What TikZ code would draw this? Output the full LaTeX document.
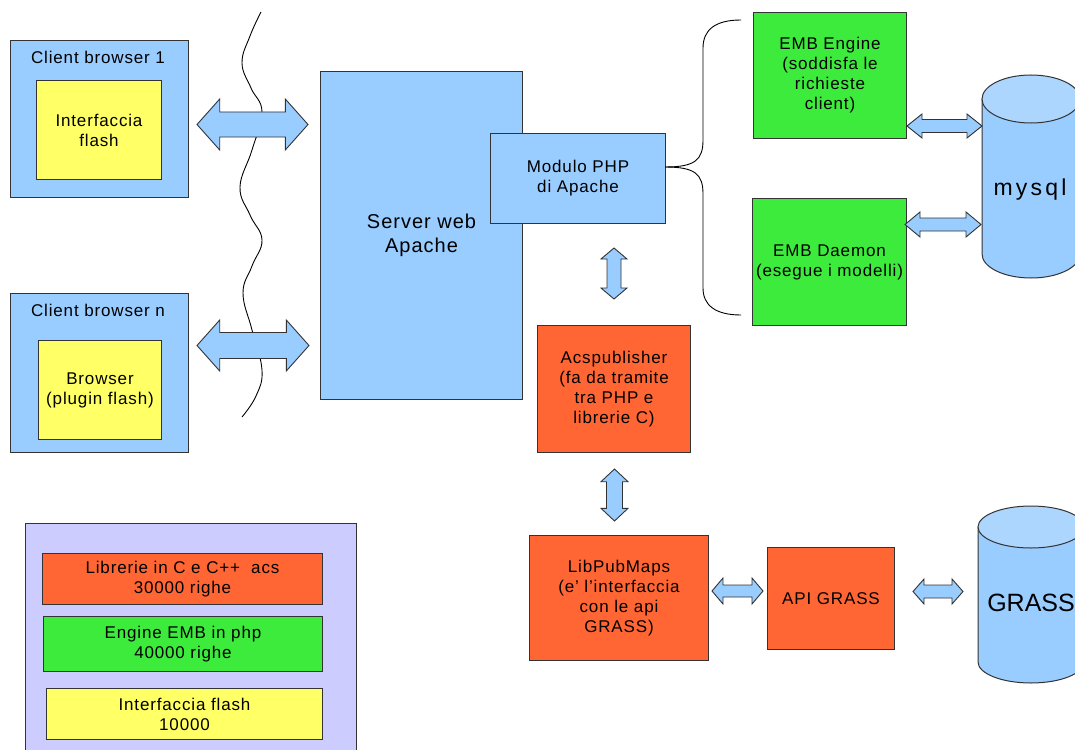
\documentclass[tikz,border=0pt]{standalone}
\usepackage{fontspec}
\setmainfont{Liberation Sans}[LetterSpace=5]
\definecolor{cblue}{HTML}{99CCFF}
\definecolor{cyel}{HTML}{FFFF66}
\definecolor{cgreen}{HTML}{3DEB3D}
\definecolor{corange}{HTML}{FF6633}
\definecolor{clav}{HTML}{CCCCFF}
\definecolor{ctop}{HTML}{ADD6FF}
\definecolor{edgec}{HTML}{333333}
\newcommand\fsz[2]{\fontsize{#1}{#2}\selectfont}
% horizontal double block arrow: x1 x2 yc halfhead halfshaft headlen
\newcommand\harr[6]{\draw[blk] (#1,#3) -- ({#1+#6},{#3-#4}) -- ({#1+#6},{#3-#5}) -- ({#2-#6},{#3-#5}) -- ({#2-#6},{#3-#4}) -- (#2,#3) -- ({#2-#6},{#3+#4}) -- ({#2-#6},{#3+#5}) -- ({#1+#6},{#3+#5}) -- ({#1+#6},{#3+#4}) -- cycle;}
% vertical double block arrow: xc y1 y2 halfhead halfshaft headlen
\newcommand\varr[6]{\draw[blk] (#1,#2) -- ({#1+#4},{#2+#6}) -- ({#1+#5},{#2+#6}) -- ({#1+#5},{#3-#6}) -- ({#1+#4},{#3-#6}) -- (#1,#3) -- ({#1-#4},{#3-#6}) -- ({#1-#5},{#3-#6}) -- ({#1-#5},{#2+#6}) -- ({#1-#4},{#2+#6}) -- cycle;}
\tikzset{
  box/.style={draw=edgec, line width=1pt, inner sep=0pt, align=center, anchor=north west, font=\fsz{17}{20}},
  lbl/.style={inner sep=0pt, align=center, font=\fsz{17}{20}},
  blk/.style={draw=edgec, line width=0.9pt, fill=cblue, line join=miter},
  thin/.style={draw=black, line width=0.9pt},
}
\begin{document}
\begin{tikzpicture}[x=1pt, y=-1pt]
\useasboundingbox (0,0) rectangle (1075,749);
\clip (0,0) rectangle (1075,749);
\fill[white] (0,0) rectangle (1075,749);

% clients
\node[box, fill=cblue, minimum width=178, minimum height=157] (c1) at (10,40) {};
\node[lbl] (c1lab) at (98,57) {Client browser 1};
\node[box, fill=cyel, minimum width=125, minimum height=99] (c1in) at (36,80) {Interfaccia\\flash};
\node[box, fill=cblue, minimum width=178, minimum height=159] (cn) at (10,293) {};
\node[lbl] (cnlab) at (98,310) {Client browser n};
\node[box, fill=cyel, minimum width=123, minimum height=99] (cnin) at (38,340) {Browser\\(plugin flash)};

% wave
\draw[thin] plot[smooth, tension=0.7] coordinates {(261,12) (250,36) (242,63) (251,88) (262,112) (252,150) (240,187) (250,215) (262,240) (252,266) (243,293) (252,330) (262,370) (256,396) (242,417)};

% server and php module
\node[box, fill=cblue, minimum width=202, minimum height=328, font=\fsz{20}{24}] (server) at (320,71) {Server web\\Apache};
\node[box, fill=cblue, minimum width=175, minimum height=90] (php) at (490,133) {Modulo PHP\\di Apache};

% brace
\coordinate (tip) at (665,167);
\coordinate (btop) at (741,20);
\coordinate (bbot) at (741,315);
\draw[thin] (tip) .. controls (695,167) and (703,160) .. (703,140) -- (703,48) .. controls (703,30) and (715,20) .. (btop);
\draw[thin] (tip) .. controls (695,167) and (703,174) .. (703,194) -- (703,288) .. controls (703,305) and (715,315) .. (bbot);

% EMB
\node[box, fill=cgreen, minimum width=153, minimum height=126] (engine) at (753,12) {EMB Engine\\(soddisfa le\\richieste\\client)};
\node[box, fill=cgreen, minimum width=154, minimum height=127] (daemon) at (752,198) {EMB Daemon\\(esegue i modelli)};

% mysql cylinder
\draw[edgec, line width=1pt, fill=cblue] (982,99) -- (982,254) arc[start angle=180, end angle=360, x radius=49pt, y radius=24pt] -- (1080,99) -- cycle;
\draw[edgec, line width=1pt, fill=ctop] (1031,99) ellipse[x radius=49pt, y radius=24pt];
\node[lbl, font=\fsz{23}{26}\addfontfeatures{LetterSpace=14}] (mysql) at (1030,190) {mysql};

% orange blocks
\node[box, fill=corange, minimum width=153, minimum height=127] (acs) at (537,325) {Acspublisher\\(fa da tramite\\tra PHP e\\librerie C)};
\node[box, fill=corange, minimum width=179, minimum height=125] (lib) at (529,535) {LibPubMaps\\(e' l'interfaccia\\con le api\\GRASS)};
\node[box, fill=corange, minimum width=127, minimum height=102] (api) at (767,547) {API GRASS};

% GRASS cylinder
\draw[edgec, line width=1pt, fill=cblue] (978,527) -- (978,662) arc[start angle=180, end angle=360, x radius=53pt, y radius=21pt] -- (1084,527) -- cycle;
\draw[edgec, line width=1pt, fill=ctop] (1031,527) ellipse[x radius=53pt, y radius=21pt];
\node[lbl, font=\fsz{25}{28}\addfontfeatures{LetterSpace=0}] (grass) at (1031,603) {GRASS};

% block arrows
\harr{197}{308}{124.5}{25.5}{12.5}{22.7}
\harr{197}{309}{345.5}{25.5}{13}{22.7}
\harr{907}{982}{126}{12}{6.5}{15}
\harr{905}{981}{224.5}{12.5}{6.5}{15}
\harr{712}{763}{591}{13}{6}{11}
\harr{913}{963}{591.5}{12.5}{6.5}{11}
\varr{614}{248}{299}{13}{7}{11}
\varr{614.5}{469}{521}{13.5}{8}{12.7}

% legend
\node[box, fill=clav, minimum width=331, minimum height=240] (legend) at (25,523) {};
\node[box, fill=corange, minimum width=280, minimum height=51] (leg1) at (42,553) {Librerie in C e C++ \ acs\\30000 righe};
\node[box, fill=cgreen, minimum width=279, minimum height=55] (leg2) at (43,616) {Engine EMB in php\\40000 righe};
\node[box, fill=cyel, minimum width=276, minimum height=51] (leg3) at (46,688) {Interfaccia flash\\10000};
\end{tikzpicture}
\end{document}
